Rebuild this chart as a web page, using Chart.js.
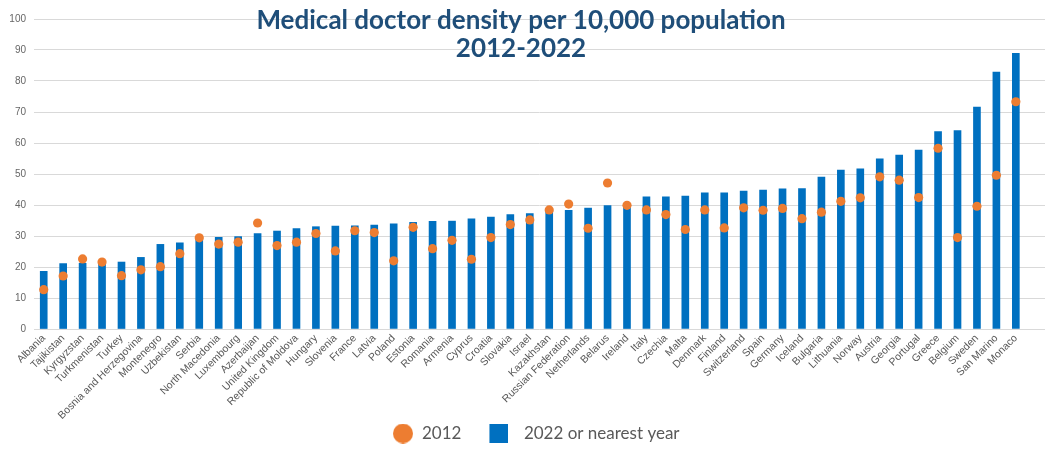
<!DOCTYPE html>
<html><head><meta charset="utf-8">
<script src="https://cdn.jsdelivr.net/npm/chart.js@4.4.1/dist/chart.umd.min.js"></script>
<style>html,body{margin:0;padding:0;background:#fff}#wrap{width:1059px;height:450px}</style>
</head><body><div id="wrap"><canvas id="c" width="1059" height="450"></canvas></div>
<script>
const countries = ["Albania","Tajikistan","Kyrgyzstan","Turkmenistan","Turkey","Bosnia and Herzegovina","Montenegro","Uzbekistan","Serbia","North Macedonia","Luxembourg","Azerbaijan","United Kingdom","Republic of Moldova","Hungary","Slovenia","France","Latvia","Poland","Estonia","Romania","Armenia","Cyprus","Croatia","Slovakia","Israel","Kazakhstan","Russian Federation","Netherlands","Belarus","Ireland","Italy","Czechia","Malta","Denmark","Finland","Switzerland","Spain","Germany","Iceland","Bulgaria","Lithuania","Norway","Austria","Georgia","Portugal","Greece","Belgium","Sweden","San Marino","Monaco",""];
const density2022 = [18.6,21.1,21.2,21.4,21.6,23.1,27.3,27.8,29.4,29.6,29.8,30.8,31.6,32.4,33.0,33.2,33.3,33.5,33.9,34.4,34.7,34.8,35.5,36.1,36.9,37.2,38.2,38.3,39.0,39.8,40.0,42.6,42.6,42.9,43.9,43.9,44.5,44.8,45.2,45.3,49.0,51.3,51.7,54.9,56.1,57.7,63.7,64.0,71.6,82.9,88.9,null];
const density2012 = [12.7,17.1,22.6,21.6,17.2,19.1,20.1,24.3,29.4,27.4,28.0,34.2,26.9,28.0,30.8,25.2,31.7,31.1,22.0,32.8,25.9,28.6,22.5,29.5,33.7,35.2,38.4,40.3,32.5,47.1,39.9,38.4,36.9,32.1,38.4,32.6,39.1,38.3,38.9,35.6,37.7,41.2,42.3,49.1,48.0,42.4,58.3,29.5,39.6,49.6,73.3,null];
const seriesNames = ["2012","2022 or nearest year"];
const titleLines = ["Medical doctor density per 10,000 population","2012-2022"];

const BLUE = "#0070C0", ORANGE = "#ED7D31", GRID = "#d9d9d9", TEXT = "#595959";

function legendCircle(){const c=document.createElement('canvas');c.width=47;c.height=20;const g=c.getContext('2d');g.fillStyle=ORANGE;g.beginPath();g.arc(37,10,10,0,Math.PI*2);g.fill();return c;}
function legendSquare(){const c=document.createElement('canvas');c.width=34;c.height=19;const g=c.getContext('2d');g.fillStyle=BLUE;g.fillRect(15,0,19,19);return c;}
const legendIcons=[legendCircle(),legendSquare()];

const titlePlugin = {
  id:'overTitle',
  afterDraw(chart){
    const ctx=chart.ctx;ctx.save();
    ctx.font='bold 26px Lato';ctx.fillStyle='#1f4e79';ctx.textAlign='center';ctx.textBaseline='alphabetic';
    ctx.fillText(titleLines[0],521,29);
    ctx.fillText(titleLines[1],521,56.5);
    ctx.restore();
  }
};

new Chart(document.getElementById('c'),{
  data:{
    labels:countries,
    datasets:[
      {type:'line',label:seriesNames[0],data:density2012,showLine:false,order:0,
       pointRadius:4.6,pointHoverRadius:4.6,pointBackgroundColor:ORANGE,pointBorderWidth:0,borderColor:ORANGE,backgroundColor:ORANGE,pointStyle:'circle'},
      {type:'bar',label:seriesNames[1],data:density2022,order:1,backgroundColor:BLUE,barThickness:7,pointStyle:'rect'}
    ]
  },
  options:{
    responsive:false,animation:false,devicePixelRatio:1,
    layout:{padding:{left:0,right:14,top:19,bottom:-2}},
    scales:{
      x:{grid:{display:false,drawTicks:false},border:{display:false},
         ticks:{autoSkip:false,maxRotation:45,minRotation:45,padding:3,color:TEXT,font:{family:'Liberation Sans, Arial',size:10.5}},
         afterFit(s){s.height=90;}},
      y:{min:0,max:100,grid:{color:GRID,drawTicks:false},border:{display:false},
         ticks:{stepSize:10,padding:8,color:'#666',font:{family:'Liberation Sans, Arial',size:10}},
         afterFit(s){s.width=34;}}
    },
    plugins:{
      tooltip:{enabled:false},
      title:{display:false},
      legend:{position:'bottom',
        labels:{usePointStyle:true,pointStyleWidth:48,padding:6,color:TEXT,font:{family:'Lato',size:17},
          generateLabels(chart){
            const items=Chart.defaults.plugins.legend.labels.generateLabels(chart);
            return items.map(it=>Object.assign(it,{pointStyle:legendIcons[it.datasetIndex]}));
          }}}
    }
  },
  plugins:[titlePlugin]
});
</script></body></html>
